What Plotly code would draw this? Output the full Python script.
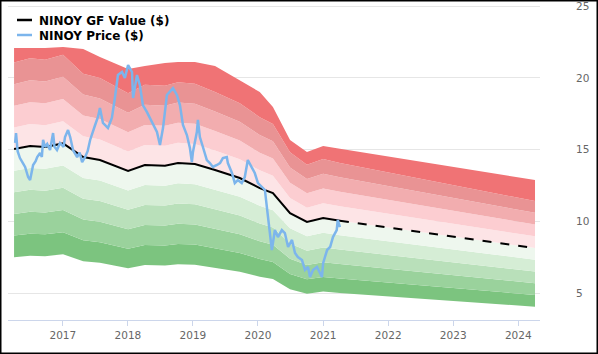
import plotly.graph_objects as go

# ---------------- data ----------------
gf_dates = ["2016-04-02", "2016-07-01", "2016-09-23", "2017-01-02", "2017-04-25",
            "2017-07-28", "2018-01-02", "2018-04-06", "2018-07-28", "2018-10-09",
            "2019-01-12", "2019-05-05", "2019-09-21", "2020-01-11", "2020-03-25",
            "2020-06-29", "2020-10-02", "2021-01-01", "2021-04-05"]
gf_values = [15.05, 15.26, 15.19, 15.44, 14.49,
             14.28, 13.52, 13.94, 13.89, 14.07,
             14.00, 13.59, 13.03, 12.33, 11.99,
             10.59, 9.97, 10.25, 10.06]

proj_dates = ["2021-04-05", "2024-04-04"]
proj_values = [10.06, 8.16]

# upper edge of the top (darkest red) band, same dates as gf_dates + projection end
band_top = [22.08, 22.08, 22.08, 22.15, 22.01,
            21.45, 20.62, 20.82, 21.03, 21.10,
            21.10, 20.82, 19.85, 19.02, 17.97,
            15.67, 14.84, 15.26, 15.07, 12.89]

band_multipliers = [0.5, 0.6, 0.7, 0.8, 0.9, 1.0, 1.1, 1.2, 1.3, 1.4]
band_colors = ["#7cc47f", "#9ad29c", "#b9e0ba", "#d5edd5", "#eef7ee",
               "#fde4e6", "#fccdd1", "#f2adaf", "#e99394", "#f07375"]

price_dates = ["2016-04-08", "2016-04-13", "2016-04-22", "2016-05-05", "2016-05-20",
               "2016-06-03", "2016-06-20", "2016-07-01", "2016-07-18", "2016-08-01",
               "2016-08-10", "2016-08-26", "2016-09-05", "2016-09-12", "2016-09-23",
               "2016-10-05", "2016-10-21", "2016-11-07", "2016-11-15", "2016-11-29",
               "2016-12-16", "2017-01-05", "2017-01-13", "2017-01-30", "2017-02-11",
               "2017-02-27", "2017-03-22", "2017-04-05", "2017-04-19", "2017-05-06",
               "2017-05-20", "2017-06-03", "2017-07-01", "2017-07-17", "2017-07-28",
               "2017-08-14", "2017-09-11", "2017-10-03", "2017-10-20", "2017-11-06",
               "2017-11-29", "2017-12-15", "2018-01-02", "2018-01-24", "2018-01-30",
               "2018-02-21", "2018-03-09", "2018-03-26", "2018-04-18", "2018-05-16",
               "2018-06-13", "2018-06-30", "2018-07-17", "2018-08-08", "2018-08-25",
               "2018-09-11", "2018-10-03", "2018-10-20", "2018-11-06", "2018-11-28",
               "2018-12-15", "2018-12-26", "2019-01-01", "2019-01-23", "2019-01-29",
               "2019-02-09", "2019-02-26", "2019-03-20", "2019-04-06", "2019-04-23",
               "2019-05-16", "2019-06-02", "2019-06-18", "2019-07-10", "2019-07-16",
               "2019-08-08", "2019-08-24", "2019-09-10", "2019-10-02", "2019-10-19",
               "2019-11-05", "2019-11-28", "2019-12-14", "2020-01-01", "2020-01-23",
               "2020-02-09", "2020-02-20", "2020-03-08", "2020-03-19", "2020-04-05",
               "2020-04-22", "2020-05-14", "2020-05-31", "2020-06-18", "2020-07-10",
               "2020-07-27", "2020-08-12", "2020-09-04", "2020-09-21", "2020-10-08",
               "2020-10-19", "2020-11-05", "2020-11-27", "2020-12-14", "2020-12-25",
               "2021-01-01", "2021-01-23", "2021-02-09", "2021-02-25", "2021-03-18",
               "2021-03-24", "2021-04-05"]
price_values = [15.47, 16.16, 14.90, 14.42, 14.10,
                13.80, 13.10, 12.89, 13.94, 14.20,
                14.49, 14.77, 14.50, 15.68, 15.19,
                15.40, 14.98, 16.16, 15.20, 14.98,
                15.47, 15.20, 15.88, 16.37, 15.88,
                14.98, 14.49, 14.80, 14.14, 14.49,
                14.90, 15.68, 16.72, 17.28, 17.90,
                16.86, 16.51, 17.21, 18.60, 20.20,
                20.41, 19.99, 20.89, 20.41, 18.60,
                20.20, 19.50, 18.11, 17.62, 16.93,
                16.23, 15.33, 16.51, 18.81, 19.02,
                19.29, 18.81, 18.11, 16.72, 16.02,
                15.12, 14.14, 14.84, 16.23, 17.07,
                15.88, 15.19, 14.28, 14.07, 13.80,
                13.94, 14.07, 14.42, 14.49, 14.07,
                13.38, 12.68, 12.89, 12.68, 13.10,
                14.28, 13.80, 13.38, 12.68, 12.40,
                12.20, 11.01, 9.41, 8.02, 9.41,
                8.92, 9.41, 9.20, 8.23, 8.72,
                7.81, 7.53, 7.32, 6.63, 6.84,
                6.14, 6.63, 6.84, 6.42, 6.14,
                7.12, 8.02, 8.23, 8.92, 9.41,
                10.11, 9.62]

y_ticks = [5, 10, 15, 20, 25]

# ---------------- figure ----------------
W, H = 598, 354
ML, MR, MT, MB = 8, 58, 0, 34
PW, PH = W - ML - MR, H - MT - MB

band_dates = gf_dates + proj_dates[1:]
band_base = gf_values + proj_values[1:]

fig = go.Figure()

fig.add_trace(go.Scatter(x=band_dates, y=[v * band_multipliers[0] for v in band_base],
                         mode="lines", line=dict(width=0, color="rgba(0,0,0,0)"),
                         showlegend=False, hoverinfo="skip"))
for i, m in enumerate(band_multipliers[1:]):
    fig.add_trace(go.Scatter(x=band_dates, y=[v * m for v in band_base],
                             mode="lines", line=dict(width=0, color=band_colors[i]),
                             fill="tonexty", fillcolor=band_colors[i],
                             showlegend=False, hoverinfo="skip"))
fig.add_trace(go.Scatter(x=band_dates, y=band_top, mode="lines",
                         line=dict(width=0, color=band_colors[-1]),
                         fill="tonexty", fillcolor=band_colors[-1],
                         showlegend=False, hoverinfo="skip"))

fig.add_trace(go.Scatter(x=gf_dates, y=gf_values, mode="lines",
                         line=dict(color="#000000", width=2),
                         name="NINOY GF Value ($)", showlegend=False))
fig.add_trace(go.Scatter(x=proj_dates, y=proj_values, mode="lines",
                         line=dict(color="#000000", width=2, dash="dash"),
                         showlegend=False))
fig.add_trace(go.Scatter(x=price_dates, y=price_values, mode="lines",
                         line=dict(color="#7cb5ec", width=2.5),
                         name="NINOY Price ($)", showlegend=False))

def px_x(p):
    return (p - ML) / PW

def px_y(p):
    return (H - MB - p) / PH

shapes = [
    dict(type="line", xref="paper", yref="paper", x0=px_x(17), x1=px_x(32),
         y0=px_y(20), y1=px_y(20), line=dict(color="#000000", width=2.5)),
    dict(type="line", xref="paper", yref="paper", x0=px_x(17), x1=px_x(32),
         y0=px_y(35), y1=px_y(35), line=dict(color="#7cb5ec", width=2.5)),
    dict(type="rect", xref="paper", yref="paper", x0=px_x(0.75), x1=px_x(W - 0.75),
         y0=px_y(H - 0.75), y1=px_y(0.75), line=dict(color="#000000", width=1.5),
         layer="above"),
]
annotations = [
    dict(text="<b>NINOY GF Value ($)</b>", xref="paper", yref="paper",
         x=px_x(37), y=px_y(20.5), xanchor="left", yanchor="middle", showarrow=False,
         font=dict(family="DejaVu Sans", size=12, color="#000000")),
    dict(text="<b>NINOY Price ($)</b>", xref="paper", yref="paper",
         x=px_x(37), y=px_y(35.5), xanchor="left", yanchor="middle", showarrow=False,
         font=dict(family="DejaVu Sans", size=12, color="#000000")),
]

fig.update_layout(
    template="none",
    width=W, height=H,
    margin=dict(l=ML, r=MR, t=MT, b=MB, autoexpand=False),
    paper_bgcolor="#ffffff", plot_bgcolor="#ffffff",
    font=dict(family="DejaVu Sans", size=10.5, color="#666666"),
    showlegend=False,
    shapes=shapes, annotations=annotations,
    xaxis=dict(type="date", range=["2016-02-28", "2024-05-02"],
               tick0="2017-01-01", dtick="M12", tickformat="%Y",
               showgrid=False, showline=True, linecolor="#ccd6eb", linewidth=1,
               ticks="outside", ticklen=5, tickcolor="#ccd6eb",
               automargin=False,
               tickfont=dict(size=10.5, color="#666666"), zeroline=False),
    yaxis=dict(range=[3.15, 25.42], side="right", tickmode="array", tickvals=y_ticks,
               showgrid=True, gridcolor="#e6e6e6", gridwidth=1,
               zeroline=False, showline=False, automargin=False,
               ticks="outside", ticklen=33, tickcolor="rgba(255,255,255,0)",
               ticklabeloverflow="allow",
               tickfont=dict(size=10.5, color="#666666")),
)

fig.write_html("out.html")
